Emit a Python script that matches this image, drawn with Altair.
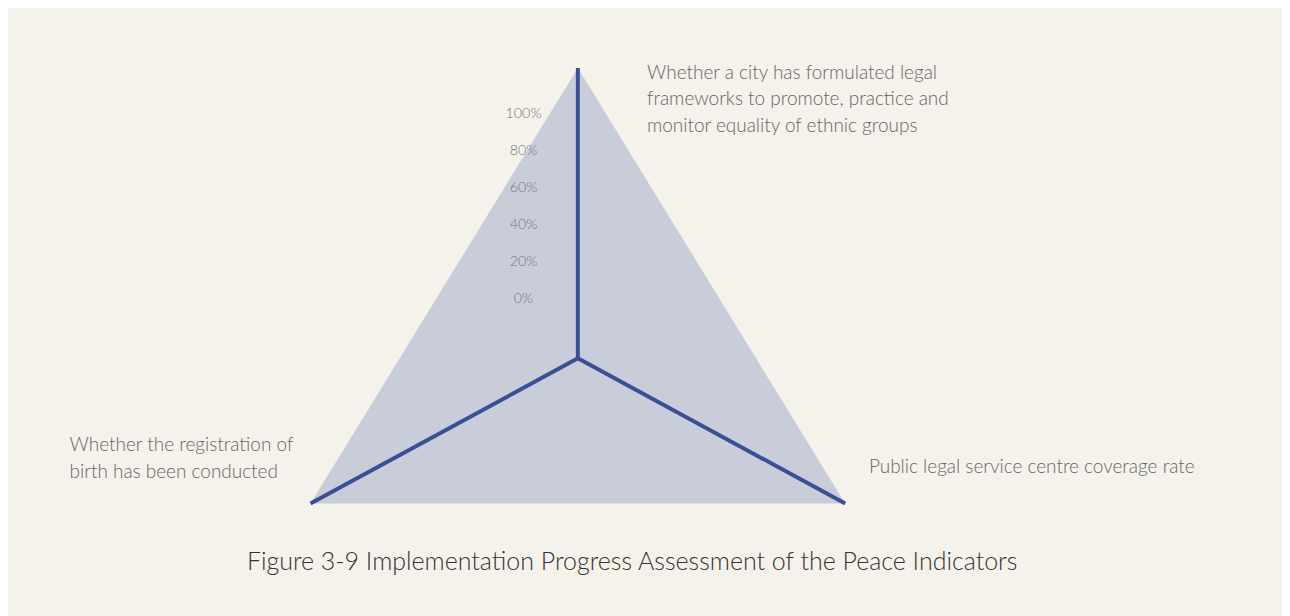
import altair as alt
import pandas as pd

# ---- data ----
indicators = [
    "Whether a city has formulated legal\nframeworks to promote, practice and\nmonitor equality of ethnic groups",
    "Public legal service centre coverage rate",
    "Whether the registration of\nbirth has been conducted",
]
values = [100, 100, 100]
tick_values = [0, 20, 40, 60, 80, 100]
tick_labels = ["0%", "20%", "40%", "60%", "80%", "100%"]
title_text = "Figure 3-9 Implementation Progress Assessment of the Peace Indicators"

FONT = "Lato"
BG = "#f5f2eb"
FILL = "#c9cdda"
LINE = "#3b4f95"

df = pd.DataFrame({"indicator": [s for s in indicators], "value": values, "idx": list(range(len(values)))})
df_ticks = pd.DataFrame({"tv": tick_values, "tl": tick_labels})
df_title = pd.DataFrame({"t": [title_text]})

W, H = 1290, 608
xs = alt.Scale(domain=[-184.6, 228.1], nice=False, zero=False)
ys = alt.Scale(domain=[-87.45, 119.35], nice=False, zero=False)

base = alt.Chart(df).transform_calculate(
    angle="PI/2 - datum.idx*2*PI/3",
).transform_calculate(
    px="datum.value*cos(datum.angle)",
    py="datum.value*sin(datum.angle)",
    x0="0",
    y0="0",
    lab="split(datum.indicator, '\\n')",
)

X = alt.X("px:Q", scale=xs, axis=None)
Y = alt.Y("py:Q", scale=ys, axis=None)

poly = base.mark_line(fill=FILL, strokeOpacity=0, fillOpacity=1).encode(
    x=X, y=Y, order="idx:Q"
)

rules = base.mark_rule(color=LINE, strokeWidth=4, strokeCap="butt").encode(
    x=X, y=Y, x2="x0:Q", y2="y0:Q"
)

label_style = dict(font=FONT, fontSize=19.2, fontWeight=300, color="#666666", lineHeight=27)
lab_top = base.transform_filter("datum.idx == 0").mark_text(
    align="left", baseline="alphabetic", dx=70, dy=11, **label_style
).encode(x=X, y=Y, text=alt.Text("lab:N"))
lab_right = base.transform_filter("datum.idx == 1").mark_text(
    align="left", baseline="alphabetic", dx=24, dy=-31, **label_style
).encode(x=X, y=Y, text=alt.Text("lab:N"))
lab_left = base.transform_filter("datum.idx == 2").mark_text(
    align="left", baseline="alphabetic", dx=-244, dy=-53, **label_style
).encode(x=X, y=Y, text=alt.Text("lab:N"))

ticks = alt.Chart(df_ticks).mark_text(
    font=FONT, fontSize=14.5, fontWeight=300, color="#777777", align="center", baseline="middle"
).encode(
    x=alt.value(522),
    y=alt.Y("tv:Q", scale=alt.Scale(domain=[-169.6, 155.3], nice=False, zero=False), axis=None),
    text="tl:N",
)

title = alt.Chart(df_title).mark_text(
    font=FONT, fontSize=25.3, fontWeight=300, color="#333333", align="center", baseline="middle"
).encode(x=alt.value(632), y=alt.value(557), text="t:N")

chart = alt.layer(poly, rules, lab_top, lab_right, lab_left, ticks, title).resolve_scale(
    y="independent"
).properties(
    width=W,
    height=H,
    autosize=alt.AutoSizeParams(type="none"),
    padding=0,
    background=BG,
).configure_view(stroke=None)

chart.save("out.html", embed_options={"renderer": "svg", "actions": False})
